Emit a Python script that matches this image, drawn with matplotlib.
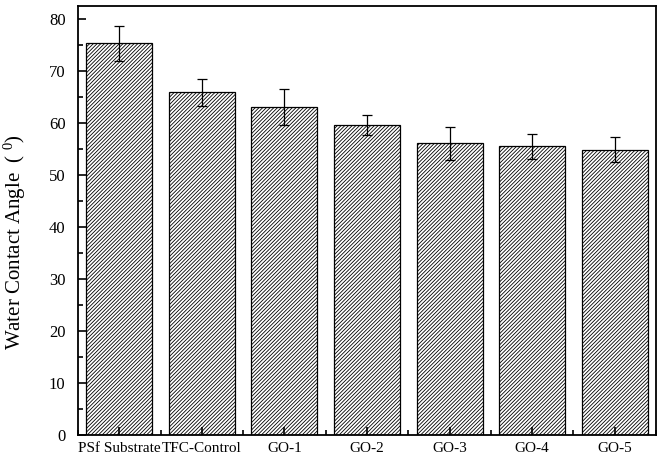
import matplotlib
matplotlib.use('Agg')
import matplotlib.pyplot as plt
from matplotlib.ticker import MultipleLocator, FixedLocator

plt.rcParams['font.family'] = ['Liberation Serif', 'DejaVu Serif']
plt.rcParams['hatch.linewidth'] = 0.6
plt.rcParams['hatch.color'] = '#222222'

samples = ['PSf Substrate', 'TFC-Control', 'GO-1', 'GO-2', 'GO-3', 'GO-4', 'GO-5']
angle = [75.3, 65.9, 63.1, 59.6, 56.1, 55.5, 54.9]
angle_err = [3.3, 2.6, 3.4, 2.0, 3.2, 2.4, 2.4]

fig, ax = plt.subplots(figsize=(6.6, 4.59), dpi=100)
fig.subplots_adjust(left=78/660, right=656/660, top=1-6/459, bottom=1-435/459)

x = list(range(len(samples)))
ax.bar(x, angle, width=0.8, color='white', edgecolor='black', linewidth=0.9,
       hatch='/' * 9, yerr=angle_err, capsize=3.5,
       error_kw=dict(elinewidth=0.9, capthick=0.9, ecolor='black'))

ax.set_xlim(-0.5, 6.5)
ax.set_ylim(0, 82.5)
ax.set_xticks(x)
ax.set_xticklabels(samples, fontsize=11)
ax.xaxis.set_minor_locator(FixedLocator([i + 0.5 for i in range(-1, 7)]))
ax.yaxis.set_major_locator(MultipleLocator(10))
ax.yaxis.set_minor_locator(MultipleLocator(5))
ax.tick_params(which='both', direction='in', width=1.2)
ax.tick_params(which='major', length=6)
ax.tick_params(which='minor', length=3.5)
ax.tick_params(axis='y', labelsize=12, pad=9)
ax.tick_params(axis='x', pad=5)
for s in ax.spines.values():
    s.set_linewidth(1.3)

ax.set_ylabel('Water Contact Angle  ( $\\mathregular{^{0}}$)', fontsize=15)
ax.yaxis.set_label_coords(-0.087, 0.45)

fig.savefig('out.png', dpi=100)
